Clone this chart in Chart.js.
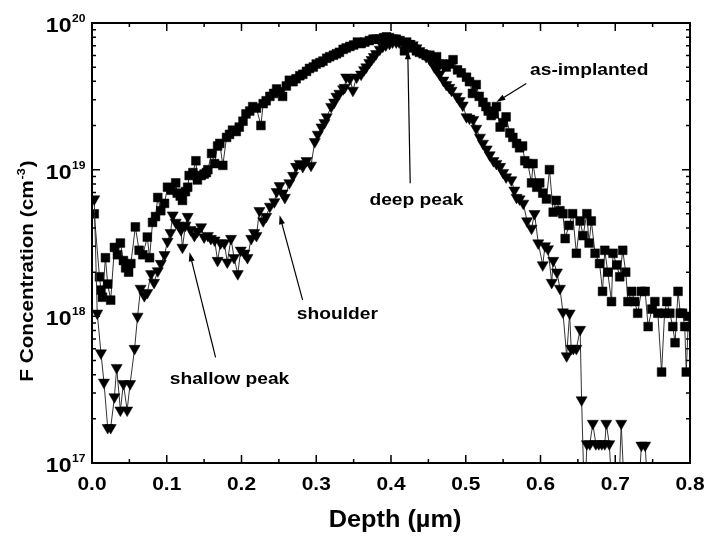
<!DOCTYPE html>
<html>
<head>
<meta charset="utf-8">
<script src="https://cdn.jsdelivr.net/npm/chart.js@4/dist/chart.umd.min.js"></script>
<style>
  body { margin: 0; background: #fff; }
  canvas { display: block; }
</style>
</head>
<body>
<canvas id="myChart" width="705" height="537"></canvas>
<script>
// As-implanted profile (squares): depth in um, F concentration in cm-3
var asImplDepth = [
  0.003, 0.010, 0.012, 0.014, 0.018, 0.021, 0.025, 0.030, 0.034, 0.038,
  0.042, 0.045, 0.049, 0.052, 0.058, 0.063, 0.068, 0.074, 0.077, 0.081,
  0.085, 0.088, 0.092, 0.097, 0.101, 0.106, 0.112, 0.114, 0.118, 0.121,
  0.125, 0.128, 0.130, 0.135, 0.139, 0.141, 0.146, 0.150, 0.153, 0.155,
  0.160, 0.164, 0.168, 0.171, 0.175, 0.180, 0.184, 0.188, 0.193, 0.197,
  0.202, 0.206, 0.211, 0.215, 0.220, 0.226, 0.229, 0.233, 0.238, 0.243,
  0.247, 0.251, 0.255, 0.260, 0.264, 0.269, 0.273, 0.278, 0.282, 0.287,
  0.291, 0.296, 0.300, 0.305, 0.309, 0.314, 0.318, 0.323, 0.327, 0.331,
  0.336, 0.340, 0.345, 0.350, 0.355, 0.360, 0.365, 0.371, 0.376, 0.380,
  0.385, 0.390, 0.394, 0.398, 0.403, 0.407, 0.412, 0.418, 0.421, 0.425,
  0.430, 0.434, 0.438, 0.443, 0.447, 0.452, 0.456, 0.461, 0.465, 0.469,
  0.474, 0.479, 0.483, 0.489, 0.494, 0.501, 0.505, 0.509, 0.514, 0.518,
  0.523, 0.527, 0.530, 0.534, 0.538, 0.541, 0.546, 0.550, 0.554, 0.559,
  0.563, 0.568, 0.572, 0.576, 0.579, 0.583, 0.588, 0.590, 0.595, 0.599,
  0.603, 0.608, 0.612, 0.617, 0.621, 0.626, 0.630, 0.633, 0.638, 0.643,
  0.648, 0.653, 0.657, 0.662, 0.665, 0.668, 0.673, 0.679, 0.683, 0.686,
  0.690, 0.695, 0.697, 0.702, 0.706, 0.710, 0.714, 0.717, 0.722, 0.726,
  0.730, 0.735, 0.740, 0.744, 0.749, 0.753, 0.757, 0.762, 0.766, 0.769,
  0.773, 0.777, 0.780, 0.784, 0.787, 0.790, 0.793, 0.795, 0.798
];
var asImplConc = [
  5.0e18, 1.86e18, 1.51e18, 1.35e18, 2.51e18, 1.66e18, 1.29e18, 2.95e18, 2.63e18, 3.16e18,
  2.40e18, 2.14e18, 2.0e18, 2.29e18, 4.07e18, 2.82e18, 2.63e18, 3.47e18, 2.51e18, 4.37e18,
  4.79e18, 6.46e18, 5.25e18, 5.89e18, 7.59e18, 7.24e18, 8.13e18, 6.92e18, 6.61e18, 6.17e18,
  7.08e18, 7.59e18, 9.12e18, 9.55e18, 1.15e19, 8.51e18, 9.12e18, 9.33e18, 9.55e18, 1.0e19,
  1.29e19, 1.10e19, 1.45e19, 1.51e19, 1.07e19, 1.66e19, 1.74e19, 1.86e19, 1.82e19, 1.95e19,
  2.14e19, 2.40e19, 2.51e19, 2.69e19, 2.63e19, 2.0e19, 2.82e19, 2.95e19, 3.16e19, 3.31e19,
  3.55e19, 3.39e19, 3.16e19, 3.72e19, 4.07e19, 3.98e19, 4.17e19, 4.37e19, 4.47e19, 4.68e19,
  4.90e19, 5.01e19, 5.25e19, 5.37e19, 5.50e19, 5.75e19, 5.89e19, 6.03e19, 6.17e19, 6.31e19,
  6.61e19, 6.76e19, 6.92e19, 7.08e19, 7.41e19, 7.24e19, 7.41e19, 7.59e19, 7.76e19, 7.76e19,
  7.76e19, 7.94e19, 8.04e19, 7.94e19, 7.76e19, 7.76e19, 7.59e19, 6.46e19, 7.41e19, 7.08e19,
  6.76e19, 6.46e19, 6.31e19, 6.17e19, 6.03e19, 6.03e19, 5.62e19, 5.89e19, 5.25e19, 5.25e19,
  5.01e19, 5.25e19, 5.62e19, 4.79e19, 4.57e19, 4.27e19, 3.98e19, 3.31e19, 3.80e19, 3.16e19,
  2.88e19, 2.69e19, 2.51e19, 2.34e19, 2.40e19, 2.69e19, 1.95e19, 2.09e19, 2.29e19, 1.78e19,
  1.66e19, 1.51e19, 1.41e19, 1.45e19, 1.15e19, 1.10e19, 8.13e18, 1.10e19, 7.59e18, 8.13e18,
  6.92e18, 6.31e18, 1.0e19, 5.13e18, 6.17e18, 5.25e18, 5.01e18, 3.39e18, 4.17e18, 5.01e18,
  2.69e18, 4.47e18, 3.55e18, 5.01e18, 3.16e18, 4.47e18, 2.69e18, 2.29e18, 1.48e18, 2.82e18,
  2.0e18, 1.26e18, 2.69e18, 2.24e18, 1.86e18, 2.82e18, 2.0e18, 1.26e18, 1.48e18, 1.26e18,
  1.05e18, 1.48e18, 1.48e18, 8.51e17, 1.12e18, 1.26e18, 1.05e18, 4.17e17, 1.05e18, 1.26e18,
  1.05e18, 8.51e17, 6.61e17, 1.48e18, 1.05e18, 1.05e18, 8.51e17, 4.17e17, 1.0e18
];

// Annealed profile (down triangles)
var annealDepth = [
  0.003, 0.007, 0.012, 0.016, 0.021, 0.025, 0.030, 0.033, 0.038, 0.042,
  0.047, 0.051, 0.057, 0.061, 0.065, 0.070, 0.074, 0.079, 0.083, 0.088,
  0.092, 0.097, 0.101, 0.105, 0.108, 0.112, 0.116, 0.119, 0.121, 0.125,
  0.128, 0.132, 0.137, 0.141, 0.146, 0.150, 0.155, 0.159, 0.164, 0.168,
  0.172, 0.177, 0.181, 0.186, 0.190, 0.195, 0.199, 0.204, 0.208, 0.213,
  0.217, 0.220, 0.224, 0.229, 0.233, 0.238, 0.244, 0.247, 0.251, 0.255,
  0.258, 0.264, 0.269, 0.273, 0.278, 0.282, 0.287, 0.293, 0.298, 0.302,
  0.307, 0.311, 0.314, 0.320, 0.324, 0.327, 0.331, 0.336, 0.338, 0.340,
  0.345, 0.349, 0.354, 0.360, 0.364, 0.367, 0.371, 0.374, 0.377, 0.380,
  0.385, 0.389, 0.393, 0.398, 0.402, 0.407, 0.411, 0.416, 0.420, 0.425,
  0.429, 0.434, 0.438, 0.443, 0.447, 0.452, 0.458, 0.461, 0.465, 0.470,
  0.474, 0.478, 0.481, 0.488, 0.492, 0.496, 0.501, 0.505, 0.510, 0.514,
  0.519, 0.523, 0.528, 0.532, 0.537, 0.541, 0.546, 0.550, 0.554, 0.561,
  0.565, 0.568, 0.572, 0.577, 0.582, 0.588, 0.592, 0.597, 0.603, 0.606,
  0.610, 0.615, 0.617, 0.622, 0.626, 0.630, 0.635, 0.639, 0.641, 0.644,
  0.648, 0.653, 0.655, 0.659, 0.662, 0.666, 0.670, 0.674, 0.678, 0.682,
  0.686, 0.688, 0.692, 0.697, 0.704, 0.708, 0.713, 0.720, 0.730, 0.735,
  0.740, 0.745, 0.760
];
var annealConc = [
  6.31e18, 1.05e18, 5.62e17, 3.55e17, 1.74e17, 1.74e17, 2.82e17, 4.47e17, 2.29e17, 3.47e17,
  2.29e17, 3.47e17, 6.03e17, 1.0e18, 1.55e18, 1.38e18, 1.45e18, 1.95e18, 1.70e18, 2.04e18,
  2.29e18, 2.63e18, 3.24e18, 3.72e18, 4.90e18, 4.37e18, 4.17e18, 3.89e18, 2.95e18, 4.17e18,
  4.79e18, 3.89e18, 3.55e18, 3.80e18, 4.07e18, 3.47e18, 3.55e18, 3.39e18, 3.31e18, 2.40e18,
  3.16e18, 3.16e18, 2.34e18, 3.39e18, 2.51e18, 1.95e18, 2.82e18, 2.69e18, 2.51e18, 3.39e18,
  3.72e18, 3.55e18, 5.25e18, 4.47e18, 4.79e18, 5.62e18, 6.03e18, 7.08e18, 7.76e18, 6.92e18,
  6.46e18, 8.13e18, 9.12e18, 1.05e19, 1.10e19, 1.05e19, 1.15e19, 1.07e19, 1.55e19, 1.74e19,
  1.95e19, 2.09e19, 2.29e19, 2.69e19, 2.88e19, 3.16e19, 3.31e19, 3.55e19, 3.63e19, 4.27e19,
  4.17e19, 3.47e19, 4.27e19, 4.47e19, 4.79e19, 5.01e19, 5.37e19, 5.62e19, 5.89e19, 6.17e19,
  6.61e19, 6.92e19, 7.08e19, 7.24e19, 7.41e19, 7.41e19, 7.41e19, 7.41e19, 7.24e19, 7.24e19,
  7.08e19, 6.76e19, 6.46e19, 6.17e19, 5.89e19, 5.62e19, 5.01e19, 4.79e19, 4.47e19, 4.07e19,
  3.80e19, 3.63e19, 3.47e19, 3.16e19, 2.95e19, 2.75e19, 2.29e19, 2.24e19, 2.19e19, 1.91e19,
  1.66e19, 1.51e19, 1.38e19, 1.26e19, 1.15e19, 1.10e19, 1.05e19, 9.55e18, 8.91e18, 8.51e18,
  7.24e18, 6.46e18, 6.31e18, 5.89e18, 4.47e18, 3.98e18, 5.01e18, 3.16e18, 2.24e18, 3.02e18,
  2.88e18, 1.70e18, 2.40e18, 2.0e18, 1.55e18, 1.07e18, 5.37e17, 1.05e18, 6.03e17, 6.03e17,
  6.03e17, 8.13e17, 2.69e17, 5e16, 1.35e17, 1.35e17, 1.86e17, 1.35e17, 1.35e17, 1.35e17,
  1.35e17, 1.86e17, 1.35e17, 5e16, 5e16, 1.86e17, 5e16, 5e16, 5e16, 1.32e17,
  1.32e17, 5e16, 5e16
];

// Axis ticks and labels
var xMajorTicks = [0, 0.1, 0.2, 0.3, 0.4, 0.5, 0.6, 0.7, 0.8];
var xTickLabels = ['0.0', '0.1', '0.2', '0.3', '0.4', '0.5', '0.6', '0.7', '0.8'];
var xMinorTicks = [0.05, 0.15, 0.25, 0.35, 0.45, 0.55, 0.65, 0.75];
var yMajorTicks = [1e17, 1e18, 1e19, 1e20];
var yTickExponents = ['17', '18', '19', '20'];
var yMinorFactors = [2, 3, 4, 5, 6, 7, 8, 9];

// Annotations (text anchor + arrow), in data units
var notes = [
  { text: 'as-implanted', x: 0.586, y: 4.77e19, align: 'left',   from: [0.581, 3.87e19], to: [0.541, 2.89e19] },
  { text: 'deep peak',    x: 0.434, y: 6.17e18, align: 'center', from: [0.4257, 8.07e18], to: [0.4224, 6.52e19] },
  { text: 'shoulder',     x: 0.274, y: 1.03e18, align: 'left',   from: [0.2818, 1.29e18], to: [0.251, 4.89e18] },
  { text: 'shallow peak', x: 0.104, y: 3.73e17, align: 'left',   from: [0.1653, 5.25e17], to: [0.1305, 2.73e18] }
];

var FONT = '"Liberation Sans", Arial, sans-serif';

function toPoints(xs, ys) {
  return xs.map(function(d, i) { return { x: d, y: ys[i] }; });
}

// text with a slight horizontal stretch, like the scanned figure
function drawText(ctx, str, x, y, font, align, stretch) {
  ctx.save();
  ctx.font = font;
  var w = ctx.measureText(str).width * stretch;
  var left = align === 'center' ? x - w / 2 : (align === 'right' ? x - w : x);
  ctx.translate(left, y);
  ctx.scale(stretch, 1);
  ctx.textAlign = 'left';
  ctx.fillText(str, 0, 0);
  ctx.restore();
  return w;
}

function drawArrow(ctx, x1, y1, x2, y2) {
  var ang = Math.atan2(y2 - y1, x2 - x1);
  var len = 9, half = 3;
  ctx.beginPath();
  ctx.moveTo(x1, y1);
  ctx.lineTo(x2 - Math.cos(ang) * len * 0.8, y2 - Math.sin(ang) * len * 0.8);
  ctx.stroke();
  ctx.beginPath();
  ctx.moveTo(x2, y2);
  ctx.lineTo(x2 - Math.cos(ang) * len - Math.sin(ang) * half, y2 - Math.sin(ang) * len + Math.cos(ang) * half);
  ctx.lineTo(x2 - Math.cos(ang) * len + Math.sin(ang) * half, y2 - Math.sin(ang) * len - Math.cos(ang) * half);
  ctx.closePath();
  ctx.fill();
}

var framePlugin = {
  id: 'frame',
  beforeDraw: function(chart) {
    var ctx = chart.ctx;
    ctx.save();
    ctx.fillStyle = '#fff';
    ctx.fillRect(0, 0, chart.width, chart.height);
    ctx.restore();
  },
  afterDraw: function(chart) {
    var ctx = chart.ctx;
    var a = chart.chartArea;
    var xs = chart.scales.x, ys = chart.scales.y;
    ctx.save();
    ctx.strokeStyle = '#000';
    ctx.fillStyle = '#000';

    // box
    ctx.lineWidth = 2;
    ctx.strokeRect(a.left, a.top, a.right - a.left, a.bottom - a.top);

    // inward ticks on all four sides
    ctx.lineWidth = 1.5;
    ctx.beginPath();
    xMajorTicks.forEach(function(v) {
      var px = xs.getPixelForValue(v);
      ctx.moveTo(px, a.bottom); ctx.lineTo(px, a.bottom - 8);
      ctx.moveTo(px, a.top); ctx.lineTo(px, a.top + 8);
    });
    xMinorTicks.forEach(function(v) {
      var px = xs.getPixelForValue(v);
      ctx.moveTo(px, a.bottom); ctx.lineTo(px, a.bottom - 4);
      ctx.moveTo(px, a.top); ctx.lineTo(px, a.top + 4);
    });
    yMajorTicks.forEach(function(v, i) {
      var py = ys.getPixelForValue(v);
      ctx.moveTo(a.left, py); ctx.lineTo(a.left + 8, py);
      ctx.moveTo(a.right, py); ctx.lineTo(a.right - 8, py);
      if (i < yMajorTicks.length - 1) {
        yMinorFactors.forEach(function(f) {
          var pm = ys.getPixelForValue(f * v);
          ctx.moveTo(a.left, pm); ctx.lineTo(a.left + 4, pm);
          ctx.moveTo(a.right, pm); ctx.lineTo(a.right - 4, pm);
        });
      }
    });
    ctx.stroke();

    // tick labels
    ctx.textBaseline = 'alphabetic';
    xMajorTicks.forEach(function(v, i) {
      drawText(ctx, xTickLabels[i], xs.getPixelForValue(v), a.bottom + 27, 'bold 19px ' + FONT, 'center', 1.1);
    });
    yMajorTicks.forEach(function(v, i) {
      var py = ys.getPixelForValue(v);
      drawText(ctx, '10', 71.5, py + 9, 'bold 21px ' + FONT, 'right', 1.1);
      drawText(ctx, yTickExponents[i], 72, py - 1, 'bold 11px ' + FONT, 'left', 1.1);
    });

    // x title
    drawText(ctx, 'Depth (\u00b5m)', (a.left + a.right) / 2 + 4, 527, 'bold 23px ' + FONT, 'center', 1.1);

    // y title, rotated, with superscript
    ctx.save();
    ctx.translate(33, 272);
    ctx.rotate(-Math.PI / 2);
    var s = 1.15;
    var big = 'bold 18px ' + FONT, small = 'bold 11px ' + FONT;
    ctx.font = big;
    var w1 = ctx.measureText('F Concentration (cm').width * s;
    var w3 = ctx.measureText(')').width * s;
    ctx.font = small;
    var w2 = ctx.measureText('-3').width * s;
    var start = -(w1 + w2 + w3) / 2;
    drawText(ctx, 'F Concentration (cm', start, 0, big, 'left', s);
    drawText(ctx, '-3', start + w1 + 1, -8, small, 'left', s);
    drawText(ctx, ')', start + w1 + w2 + 2, 0, big, 'left', s);
    ctx.restore();

    // annotations
    ctx.lineWidth = 1.2;
    ctx.textBaseline = 'middle';
    notes.forEach(function(n) {
      drawText(ctx, n.text, xs.getPixelForValue(n.x), ys.getPixelForValue(n.y), 'bold 16px ' + FONT, n.align, 1.2);
      drawArrow(ctx,
        xs.getPixelForValue(n.from[0]), ys.getPixelForValue(n.from[1]),
        xs.getPixelForValue(n.to[0]), ys.getPixelForValue(n.to[1]));
    });
    ctx.restore();
  }
};

var ctx = document.getElementById('myChart').getContext('2d');
var myChart = new Chart(ctx, {
  type: 'scatter',
  data: {
    datasets: [{
      label: 'annealed',
      data: toPoints(annealDepth, annealConc),
      showLine: true,
      clip: 0,
      borderColor: '#333',
      borderWidth: 1,
      pointStyle: 'triangle',
      pointRotation: 180,
      pointRadius: 6.4,
      pointBackgroundColor: '#000',
      pointBorderColor: '#000',
      pointBorderWidth: 0.5
    }, {
      label: 'as-implanted',
      data: toPoints(asImplDepth, asImplConc),
      showLine: true,
      clip: 0,
      borderColor: '#333',
      borderWidth: 1,
      pointStyle: 'rect',
      pointRadius: 6.2,
      pointBackgroundColor: '#000',
      pointBorderColor: '#000',
      pointBorderWidth: 0.5
    }]
  },
  options: {
    responsive: false,
    animation: false,
    events: [],
    layout: { padding: { left: 92, top: 23, right: 15, bottom: 74 } },
    plugins: {
      legend: { display: false },
      tooltip: { enabled: false }
    },
    scales: {
      x: { type: 'linear', min: 0, max: 0.8, display: false },
      y: { type: 'logarithmic', min: 1e17, max: 1e20, display: false }
    }
  },
  plugins: [framePlugin]
});
</script>
</body>
</html>
